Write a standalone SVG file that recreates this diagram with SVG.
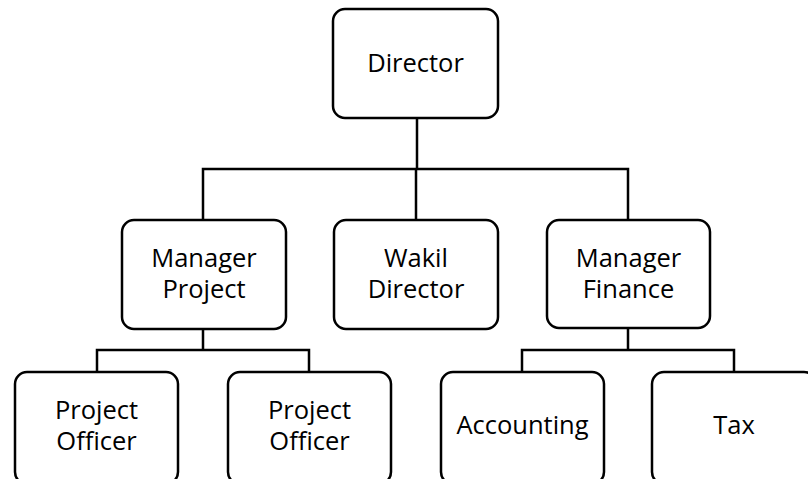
<svg xmlns="http://www.w3.org/2000/svg" width="808" height="479" viewBox="0 0 808 479">
  <style>
    .box { fill: #ffffff; stroke: #000000; stroke-width: 2.5; }
    .wire { fill: none; stroke: #000000; stroke-width: 2.5; }
    .label { font-family: "Open Sans", "Liberation Sans", sans-serif; font-size: 25.5px; fill: #000000; text-anchor: middle; }
  </style>
  <rect width="808" height="479" fill="#ffffff"/>

  <g id="connectors">
    <!-- Director to second tier -->
    <path class="wire" d="M417,118 V169 M203,220 V169 H628 V220 M416,169 V220"/>
    <!-- Manager Project to officers -->
    <path class="wire" d="M203,330 V350 M97,372 V350 H309 V372"/>
    <!-- Manager Finance to Accounting and Tax -->
    <path class="wire" d="M628,328 V350 M522,372 V350 H734 V372"/>
  </g>

  <g id="director">
    <rect class="box" x="333" y="9" width="165" height="109" rx="12"/>
    <text class="label" x="415.5" y="72">Director</text>
  </g>

  <g id="manager-project">
    <rect class="box" x="122" y="220" width="164" height="109" rx="12"/>
    <text class="label" x="204" y="267">Manager</text>
    <text class="label" x="204" y="298">Project</text>
  </g>

  <g id="wakil-director">
    <rect class="box" x="334" y="220" width="164" height="109" rx="12"/>
    <text class="label" x="416" y="267">Wakil</text>
    <text class="label" x="416" y="298">Director</text>
  </g>

  <g id="manager-finance">
    <rect class="box" x="547" y="220" width="163" height="108" rx="12"/>
    <text class="label" x="628.5" y="267">Manager</text>
    <text class="label" x="628.5" y="298">Finance</text>
  </g>

  <g id="project-officer-1">
    <rect class="box" x="15" y="372" width="163" height="112" rx="12"/>
    <text class="label" x="96.5" y="419">Project</text>
    <text class="label" x="96.5" y="450">Officer</text>
  </g>

  <g id="project-officer-2">
    <rect class="box" x="228" y="372" width="163" height="112" rx="12"/>
    <text class="label" x="309.5" y="419">Project</text>
    <text class="label" x="309.5" y="450">Officer</text>
  </g>

  <g id="accounting">
    <rect class="box" x="441" y="372" width="163" height="112" rx="12"/>
    <text class="label" x="522.5" y="434">Accounting</text>
  </g>

  <g id="tax">
    <rect class="box" x="652" y="372" width="164" height="112" rx="12"/>
    <text class="label" x="734" y="434">Tax</text>
  </g>
</svg>
